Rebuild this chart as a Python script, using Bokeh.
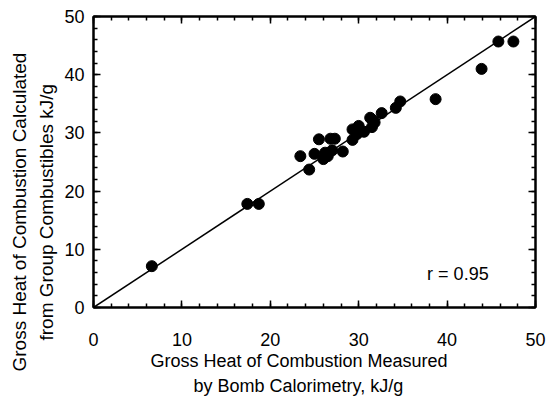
from bokeh.plotting import figure
from bokeh.models import Range1d, LinearAxis, Label, FixedTicker, Title
from bokeh.embed import file_html
from bokeh.resources import INLINE

# Measured (bomb calorimetry) vs calculated gross heat of combustion, kJ/g
measured = [6.6, 17.4, 18.7, 23.4, 24.4, 25.0, 25.5, 26.0, 26.5, 26.8, 27.3, 27.0,
            26.2, 28.2, 29.3, 29.3, 29.8, 30.0, 30.6, 31.3, 31.5, 31.8, 31.6,
            32.6, 34.2, 34.7, 38.7, 43.9, 45.8, 47.5]
calculated = [7.1, 17.8, 17.8, 26.0, 23.7, 26.4, 28.9, 25.5, 26.0, 29.0, 29.0, 27.0,
              26.6, 26.8, 28.8, 30.6, 29.8, 31.2, 30.2, 32.6, 31.0, 31.8, 32.2,
              33.4, 34.3, 35.4, 35.8, 41.0, 45.7, 45.7]
line_x = [0, 50]
line_y = [0, 50]
major_ticks = [0, 10, 20, 30, 40, 50]
minor_ticks = [v for v in range(0, 51, 2)]
r_text = "r = 0.95"
xlabel_lines = ["Gross Heat of Combustion Measured", "by Bomb Calorimetry, kJ/g"]
ylabel_lines = ["Gross Heat of Combustion Calculated", "from Group Combustibles kJ/g"]

FONT = "Liberation Sans"
FS = "18px"

p = figure(width=549, height=398, output_backend="svg", toolbar_location=None,
           x_range=Range1d(0, 50), y_range=Range1d(0, 50),
           x_axis_location=None, y_axis_location=None,
           min_border_left=93, min_border_right=14, min_border_top=16, min_border_bottom=91)
p.grid.visible = False
p.outline_line_color = "black"
p.outline_line_width = 2
p.background_fill_color = "white"
p.border_fill_color = "white"

def make_axis(show_labels, standoff):
    ax = LinearAxis(ticker=FixedTicker(ticks=major_ticks, minor_ticks=minor_ticks))
    ax.axis_line_color = "black"
    ax.axis_line_width = 2
    ax.major_tick_in = 7
    ax.major_tick_out = 0
    ax.minor_tick_in = 4
    ax.minor_tick_out = 0
    ax.major_tick_line_width = 1.5
    ax.minor_tick_line_width = 1.5
    ax.major_label_text_font = FONT
    ax.major_label_text_font_size = FS
    ax.major_label_text_color = "black"
    ax.major_label_standoff = standoff
    if not show_labels:
        ax.major_label_overrides = {t: "" for t in major_ticks}
    return ax

p.add_layout(make_axis(True, 25), "below")
p.add_layout(make_axis(True, 9), "left")
p.add_layout(make_axis(False, 2), "above")
p.add_layout(make_axis(False, 2), "right")

def make_title(t, offset, standoff, size, valign="bottom"):
    return Title(text=t, align="left", offset=offset, standoff=standoff,
                 vertical_align=valign,
                 text_font=FONT, text_font_size=size, text_font_style="normal",
                 text_color="black")

p.add_layout(make_title(xlabel_lines[0], 57, 5, "18px", "top"), "below")
p.add_layout(make_title(xlabel_lines[1], 100, 0, "18px", "top"), "below")
p.add_layout(make_title(ylabel_lines[1], -33, 9, "19px"), "left")
p.add_layout(make_title(ylabel_lines[0], -64, 0, "19px"), "left")

p.line(line_x, line_y, line_color="black", line_width=1.5)
p.scatter(measured, calculated, size=11, fill_color="black", line_color="black")

p.add_layout(Label(x=44.7, y=5.8, text=r_text, text_align="right", text_baseline="middle",
                   text_font=FONT, text_font_size=FS, text_color="black"))

open("out.html", "w").write(file_html(p, INLINE))
